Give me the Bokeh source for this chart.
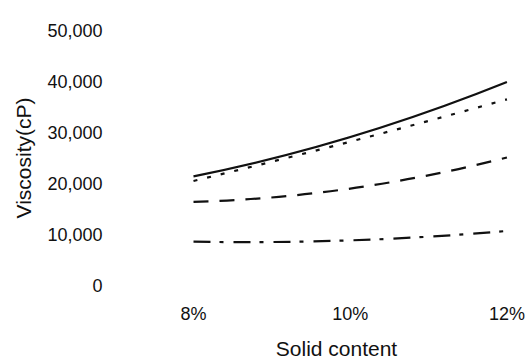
from bokeh.plotting import figure
from bokeh.models import FixedTicker, NumeralTickFormatter, Range1d
from bokeh.embed import file_html
from bokeh.resources import INLINE

# ---- data ----
solid_content = [8, 10, 12]
x_tick_labels = ["8%", "10%", "12%"]
y_ticks = [0, 10000, 20000, 30000, 40000, 50000]

visc_solid = [21400, 29100, 39900]
visc_dotted = [20500, 28200, 36500]
visc_dashed = [16400, 19000, 25100]
visc_dashdot = [8600, 8850, 10700]

series = [
    (visc_solid, "solid"),
    (visc_dotted, "4 10"),
    (visc_dashed, "15 11"),
    (visc_dashdot, "17 9 4 10"),
]

FONT = "Liberation Sans"
INK = "#111111"
X0, X1 = 7.63, 12.02
Y0, Y1 = 0, 50000

p = figure(width=525, height=362, output_backend="svg", toolbar_location=None,
           x_range=Range1d(X0, X1), y_range=Range1d(Y0, Y1),
           min_border_left=164, min_border_right=17, min_border_top=30,
           min_border_bottom=76)

p.grid.visible = False
p.outline_line_color = None
p.background_fill_color = "white"
p.border_fill_color = "white"

# smooth curve through the three points (quadratic Bezier passing through middle point)
for vals, dash in series:
    x0, x1, x2 = solid_content
    y0, y1, y2 = vals
    cx = 2 * x1 - (x0 + x2) / 2
    cy = 2 * y1 - (y0 + y2) / 2
    p.quadratic(x0=[x0], y0=[y0], x1=[x2], y1=[y2], cx=[cx], cy=[cy],
                line_color=INK, line_width=2.2, line_dash=dash)

# x axis
p.xaxis.ticker = FixedTicker(ticks=solid_content)
p.xaxis.major_label_overrides = {v: t for v, t in zip(solid_content, x_tick_labels)}
p.xaxis.axis_label = "Solid content"
p.xaxis.major_label_standoff = 18
p.xaxis.axis_label_standoff = 10

# y axis
p.yaxis.ticker = FixedTicker(ticks=y_ticks)
p.yaxis.formatter = NumeralTickFormatter(format="0,0")
p.yaxis.axis_label = "Viscosity(cP)"
p.yaxis.major_label_standoff = 62
p.yaxis.axis_label_standoff = 9

for ax in (p.xaxis, p.yaxis):
    ax.axis_line_color = None
    ax.major_tick_line_color = None
    ax.minor_tick_line_color = None
    ax.major_tick_out = 0
    ax.major_tick_in = 0
    ax.minor_tick_out = 0
    ax.major_label_text_font = FONT
    ax.major_label_text_font_size = "18px"
    ax.major_label_text_color = INK
    ax.axis_label_text_font = FONT
    ax.axis_label_text_font_size = "21px"
    ax.axis_label_text_font_style = "normal"
    ax.axis_label_text_color = INK

open("out.html", "w").write(file_html(p, INLINE))
